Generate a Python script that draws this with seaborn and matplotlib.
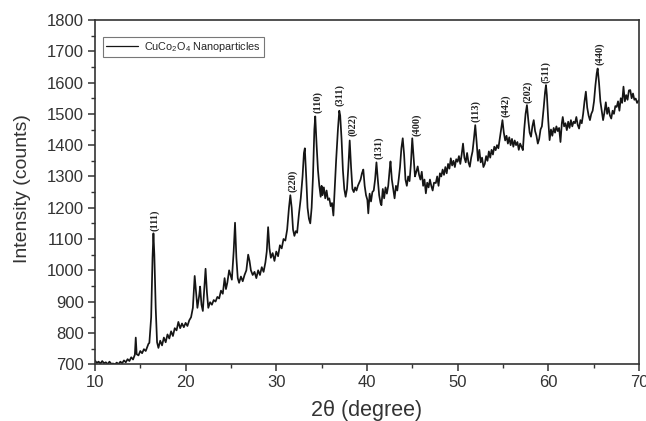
import numpy as np
import pandas as pd
import matplotlib
matplotlib.use("Agg")
import matplotlib.pyplot as plt
from matplotlib.ticker import MultipleLocator
import seaborn as sns

two_theta = [
    10.0, 10.2, 10.4, 10.6, 10.8, 11.0, 11.2, 11.4, 11.6, 11.8,
    12.0, 12.2, 12.4, 12.6, 12.8, 13.0, 13.2, 13.4, 13.6, 13.8,
    14.0, 14.2, 14.4, 14.5, 14.6, 14.8, 15.0, 15.2, 15.4, 15.6, 15.8, 15.9, 16.0,
    16.2, 16.35, 16.45, 16.55, 16.7, 16.85, 17.0, 17.2, 17.4, 17.6, 17.8, 18.0,
    18.2, 18.4, 18.6, 18.8, 19.0, 19.2, 19.4, 19.6, 19.8, 20.0, 20.2, 20.4, 20.6, 20.8,
    21.0, 21.15, 21.3, 21.5, 21.6, 21.75, 21.9, 22.05, 22.2, 22.35, 22.5, 22.7, 22.9,
    23.1, 23.3, 23.5, 23.7, 23.9, 24.1, 24.3, 24.45, 24.6, 24.8, 24.95, 25.1, 25.3,
    25.45, 25.6, 25.75, 25.9, 26.1, 26.3, 26.5, 26.7, 26.9, 27.05, 27.2, 27.4, 27.6,
    27.8, 28.0, 28.2, 28.4, 28.6, 28.8, 28.95, 29.1, 29.25, 29.4, 29.6, 29.8, 30.0,
    30.2, 30.4, 30.6, 30.8, 31.0, 31.2, 31.4, 31.55, 31.7, 31.85, 32.0, 32.15, 32.3,
    32.5, 32.7, 32.9, 33.05, 33.15, 33.3, 33.45, 33.6, 33.75, 33.9, 34.05, 34.2, 34.3,
    34.45, 34.6, 34.75, 34.9, 35.0, 35.1, 35.25, 35.4, 35.55, 35.7, 35.85, 36.0, 36.15,
    36.3, 36.45, 36.6, 36.8, 36.95, 37.05, 37.2, 37.35, 37.5, 37.65, 37.8, 37.95, 38.1,
    38.25, 38.4, 38.55, 38.7, 38.85, 39.0, 39.15, 39.3, 39.45, 39.6, 39.75, 39.9, 40.05,
    40.15, 40.3, 40.45, 40.6, 40.75, 40.9, 41.05, 41.2, 41.35, 41.5, 41.6, 41.75, 41.9,
    42.05, 42.2, 42.35, 42.5, 42.6, 42.75, 42.9, 43.05, 43.2, 43.35, 43.5, 43.65, 43.8,
    43.95, 44.1, 44.25, 44.4, 44.55, 44.7, 44.85, 45.0, 45.15, 45.3, 45.45, 45.6, 45.75,
    45.9, 46.05, 46.2, 46.35, 46.5, 46.65, 46.8, 46.95, 47.1, 47.25, 47.4, 47.6, 47.75,
    47.9, 48.05, 48.2, 48.35, 48.5, 48.65, 48.8, 48.95, 49.1, 49.25, 49.4, 49.55, 49.7,
    49.85, 50.0, 50.15, 50.3, 50.45, 50.6, 50.75, 50.9, 51.05, 51.2, 51.35, 51.5, 51.65,
    51.8, 51.95, 52.1, 52.25, 52.4, 52.55, 52.7, 52.85, 53.0, 53.15, 53.3, 53.45, 53.6,
    53.75, 53.9, 54.05, 54.2, 54.35, 54.5, 54.65, 54.8, 54.95, 55.1, 55.25, 55.4, 55.55,
    55.7, 55.85, 56.0, 56.15, 56.3, 56.45, 56.6, 56.75, 56.9, 57.05, 57.2, 57.35, 57.5,
    57.65, 57.8, 57.95, 58.1, 58.25, 58.4, 58.55, 58.7, 58.85, 59.0, 59.15, 59.3, 59.5,
    59.65, 59.75, 59.85, 60.0, 60.15, 60.3, 60.45, 60.6, 60.75, 60.9, 61.05, 61.2, 61.35,
    61.5, 61.6, 61.75, 61.9, 62.05, 62.2, 62.35, 62.5, 62.65, 62.8, 62.95, 63.1, 63.25,
    63.4, 63.55, 63.7, 63.85, 64.0, 64.15, 64.3, 64.45, 64.6, 64.75, 64.9, 65.05, 65.2,
    65.35, 65.45, 65.6, 65.75, 65.9, 66.05, 66.2, 66.35, 66.5, 66.65, 66.8, 66.95, 67.1,
    67.25, 67.4, 67.55, 67.7, 67.85, 68.0, 68.15, 68.3, 68.45, 68.6, 68.75, 68.9, 69.05,
    69.2, 69.35, 69.5, 69.65, 69.8, 70.0,
]

intensity = [
    712, 704, 708, 702, 710, 703, 706, 700, 708, 701,
    702, 699, 705, 700, 708, 703, 712, 706, 716, 710,
    722, 715, 730, 785, 732, 728, 742, 735, 748, 742, 758, 765, 768,
    850, 1040, 1118, 1050, 880, 770, 752, 775, 760, 785, 770, 795,
    782, 805, 790, 815, 808, 835, 815, 830, 818, 832, 822, 840, 850, 880,
    982, 930, 880, 920, 948, 890, 870, 940, 1005, 930, 880, 898, 890,
    905, 900, 915, 910, 935, 925, 975, 940, 960, 1000, 985, 970, 1060,
    1152, 1040, 975, 960, 980, 965, 985, 1000, 1050, 1030, 1000, 985, 995,
    975, 1000, 985, 1010, 995, 1025, 1060, 1138, 1070, 1040, 1055, 1030, 1060,
    1045, 1080, 1070, 1100, 1095, 1130, 1200, 1240, 1200, 1130, 1110, 1125, 1120,
    1180, 1230, 1300, 1375, 1390, 1300, 1200, 1165, 1150, 1200, 1300, 1450, 1492,
    1400, 1320, 1270, 1235, 1270, 1240, 1265, 1230, 1255, 1225, 1230, 1205, 1215,
    1175, 1260, 1350, 1450, 1510, 1495, 1420, 1320, 1260, 1235, 1260, 1330, 1415,
    1330, 1260, 1250, 1265, 1255, 1270, 1280, 1290, 1310, 1322, 1270, 1240, 1225,
    1182, 1245, 1220, 1250, 1255, 1290, 1345, 1290, 1240, 1215, 1208, 1260, 1230,
    1265, 1245, 1270, 1320, 1348, 1290, 1260, 1230, 1270, 1255, 1290, 1330, 1390,
    1422, 1370, 1290, 1270, 1300, 1285, 1340, 1422, 1360, 1300, 1315, 1332, 1305,
    1290, 1315, 1270, 1290, 1246, 1280, 1265, 1290, 1270, 1255, 1280, 1279, 1300,
    1270, 1310, 1300, 1322, 1305, 1330, 1310, 1340, 1325, 1358, 1335, 1350, 1330,
    1355, 1347, 1365, 1340, 1370, 1405, 1360, 1345, 1375, 1345, 1331, 1360, 1380,
    1420, 1464, 1410, 1350, 1385, 1345, 1360, 1330, 1340, 1365, 1350, 1380, 1360,
    1385, 1370, 1395, 1384, 1400, 1390, 1420, 1450, 1480, 1440, 1415, 1430, 1405,
    1425, 1400, 1420, 1395, 1415, 1400, 1410, 1385, 1405, 1395, 1384, 1450, 1500,
    1528, 1480, 1440, 1427, 1460, 1480, 1445, 1430, 1405, 1420, 1450, 1460, 1520,
    1570, 1592, 1560, 1480, 1416, 1450, 1430, 1455, 1440, 1460, 1445, 1455, 1410,
    1470, 1490, 1460, 1470, 1448, 1475, 1455, 1480, 1460, 1475, 1470, 1490, 1465,
    1453, 1480, 1470, 1500, 1540, 1571, 1520, 1495, 1480, 1500, 1510, 1540, 1590,
    1630, 1645, 1600, 1540, 1510, 1480, 1505, 1537, 1500, 1520, 1495, 1485, 1510,
    1500, 1525, 1522, 1540, 1510, 1550, 1535, 1587, 1540, 1560, 1545, 1575, 1576,
    1550, 1565, 1545, 1549, 1535, 1544,
]

peak_labels = ["(111)", "(220)", "(110)", "(311)", "(022)", "(131)", "(400)",
               "(113)", "(442)", "(202)", "(511)", "(440)"]
peak_label_x = [16.62, 31.8, 34.6, 37.0, 38.45, 41.3, 45.5, 52.0, 55.3, 57.75, 59.74, 65.7]
peak_label_y = [1160, 1285, 1538, 1560, 1464, 1391, 1464, 1509, 1525, 1570, 1634, 1691]

x_ticks = [10, 20, 30, 40, 50, 60, 70]
y_ticks = [700, 800, 900, 1000, 1100, 1200, 1300, 1400, 1500, 1600, 1700, 1800]

df = pd.DataFrame({"two_theta": two_theta, "intensity": intensity})

sns.set_style("ticks")
plt.rcParams["font.family"] = ["Liberation Sans", "DejaVu Sans"]
plt.rcParams["mathtext.fontset"] = "custom"
plt.rcParams["mathtext.rm"] = "Liberation Sans"
plt.rcParams["mathtext.it"] = "Liberation Sans"
plt.rcParams["mathtext.bf"] = "Liberation Sans:bold"
plt.rcParams["mathtext.default"] = "rm"

fig = plt.figure(figsize=(6.46, 4.21), dpi=100)
ax = fig.add_axes([0.147, 0.135, 0.842, 0.8175])

sns.lineplot(data=df, x="two_theta", y="intensity", ax=ax, color="#151515",
             linewidth=1.25, sort=False, estimator=None,
             label="Cu$\\mathregular{Co_2O_4}$ Nanoparticles")

for lab, lx, ly in zip(peak_labels, peak_label_x, peak_label_y):
    ax.text(lx, ly, lab, rotation=90, ha="center", va="center", fontsize=7.5,
            family=["Liberation Serif", "DejaVu Serif"], fontweight="bold",
            color="#222222")

ax.set_xlim(10, 70)
ax.set_ylim(700, 1800)
ax.set_xticks(x_ticks)
ax.set_yticks(y_ticks)
ax.xaxis.set_minor_locator(MultipleLocator(5))
ax.yaxis.set_minor_locator(MultipleLocator(50))
ax.tick_params(axis="both", which="major", direction="out", length=5, width=1.1,
               pad=3, labelsize=12, colors="#333333", labelcolor="#333333")
ax.tick_params(axis="both", which="minor", direction="out", length=3, width=1,
               colors="#333333")
ax.tick_params(top=False, right=False, which="both")
for s in ax.spines.values():
    s.set_visible(True)
    s.set_color("#333333")
    s.set_linewidth(1.2)

ax.set_xlabel("2θ (degree)", fontsize=15.5, color="#333333")
ax.set_ylabel("Intensity (counts)", fontsize=14, color="#333333")
ax.xaxis.set_label_coords(0.5, -0.105)
ax.yaxis.set_label_coords(-0.118, 0.51)

leg = ax.legend(loc="upper left", bbox_to_anchor=(0.014, 0.952), fontsize=7.8,
                frameon=True, fancybox=False, handlelength=3.0,
                borderpad=0.3, handletextpad=0.5, borderaxespad=0)
leg.get_frame().set_edgecolor("#555555")
leg.get_frame().set_linewidth(0.8)
for h in leg.get_lines():
    h.set_linewidth(0.9)

fig.savefig("out.png", dpi=100)
